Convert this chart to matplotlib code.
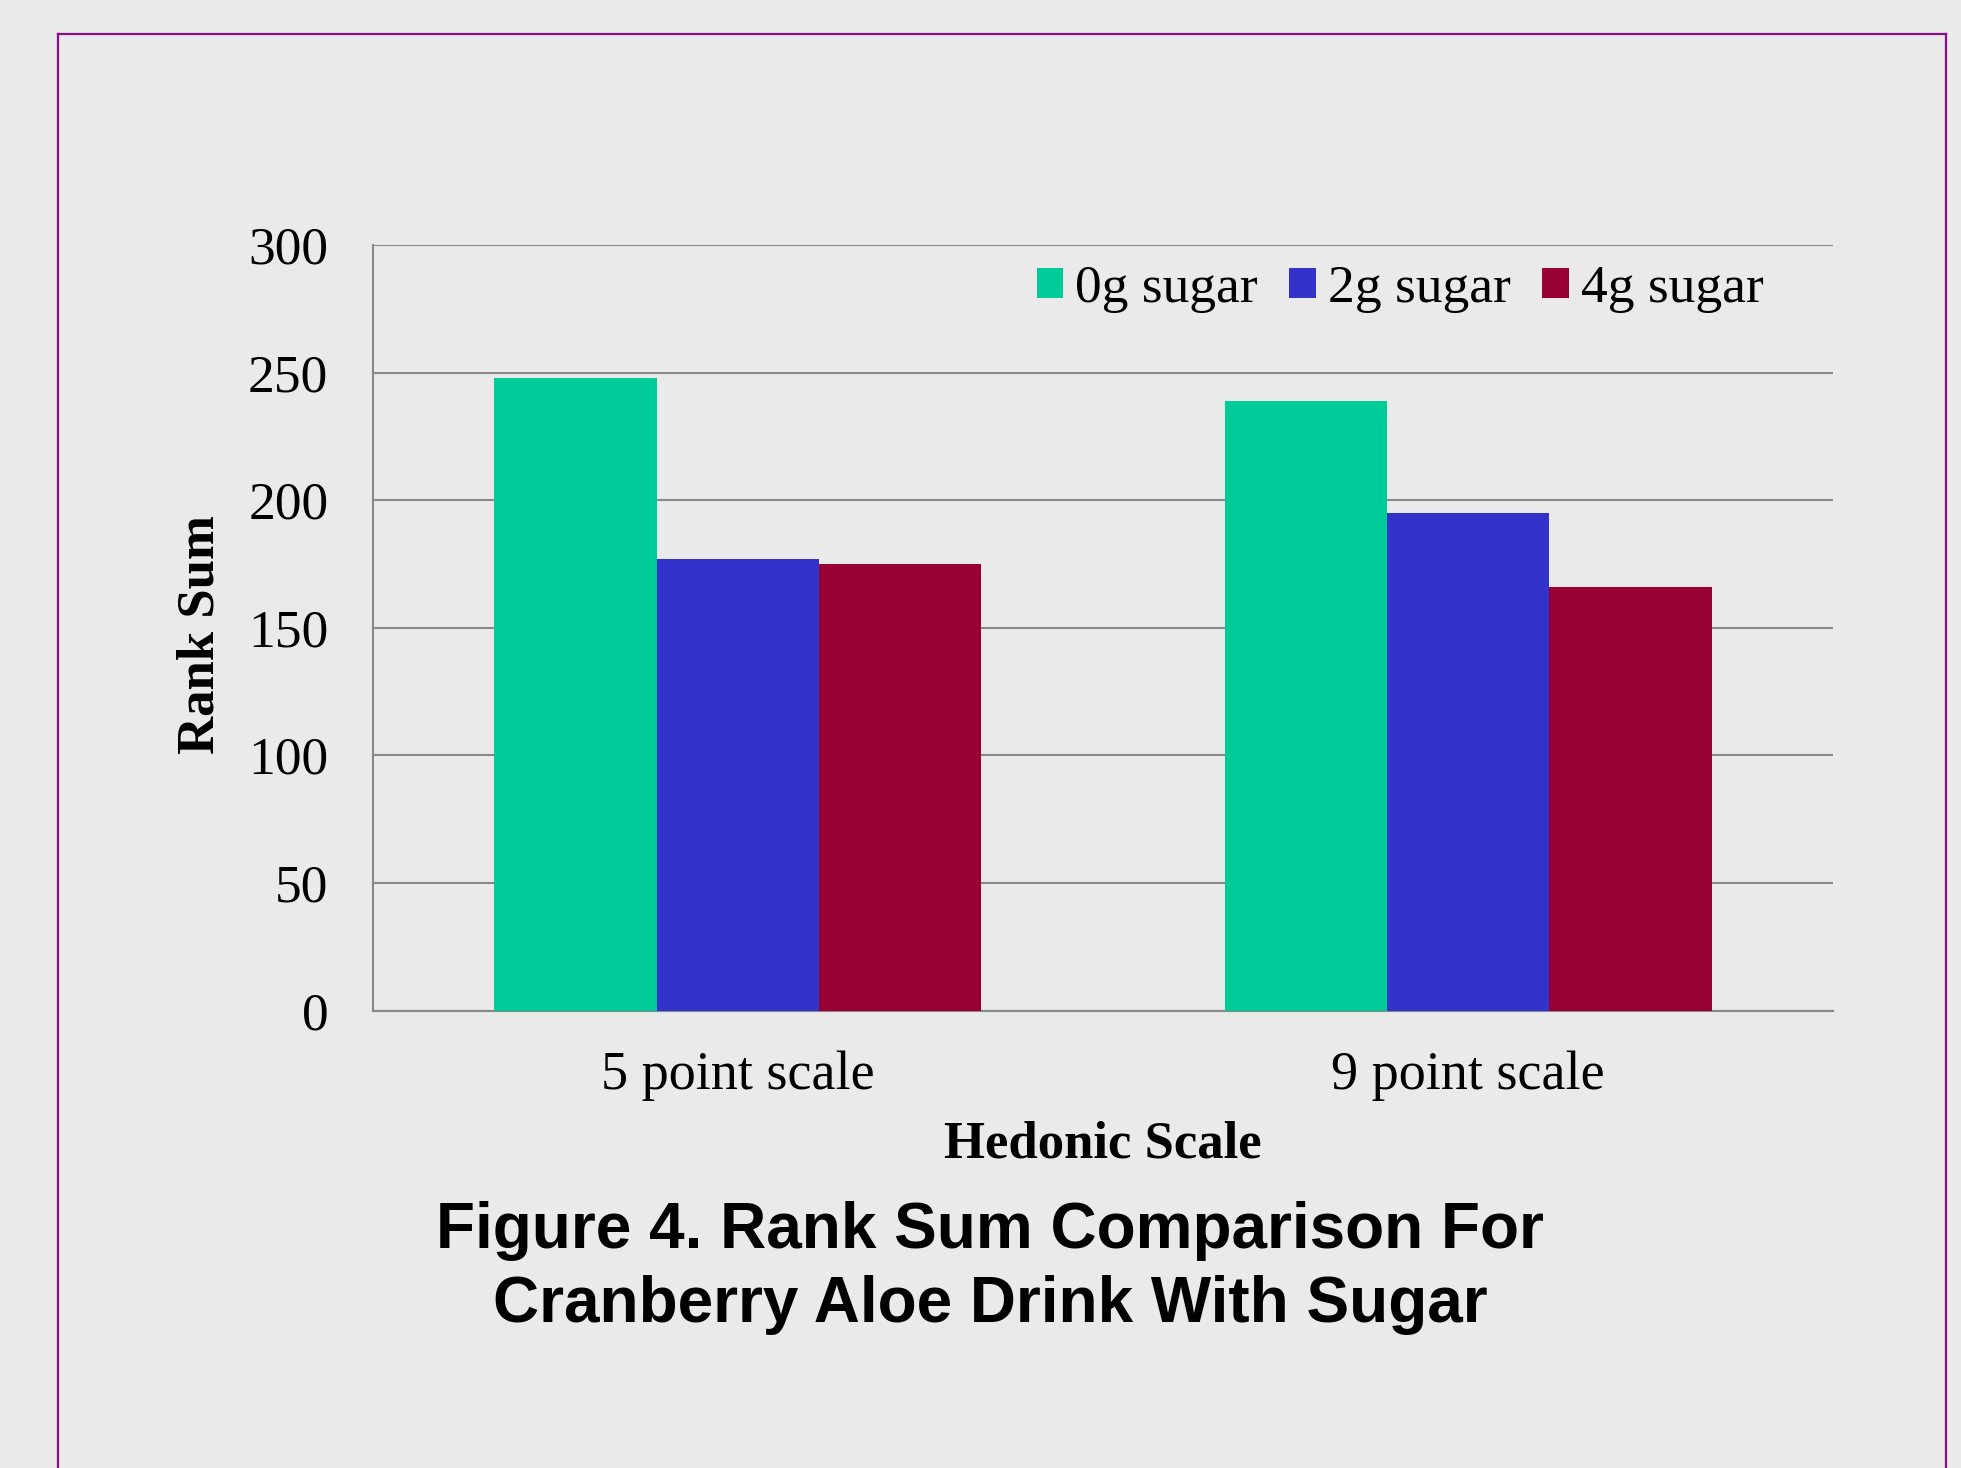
import matplotlib
matplotlib.use("Agg")
import matplotlib.pyplot as plt
from matplotlib.lines import Line2D
import numpy as np

categories = ["5 point scale", "9 point scale"]
series_names = ["0g sugar", "2g sugar", "4g sugar"]
sugar_0g = [248, 239]
sugar_2g = [177, 195]
sugar_4g = [175, 166]
y_ticks = [0, 50, 100, 150, 200, 250, 300]

colors = ["#00CC99", "#3333CC", "#990033"]
bg = "#EAEAEA"
W, H = 1961, 1468

fig = plt.figure(figsize=(W / 100, H / 100), dpi=100, facecolor=bg)
ax = fig.add_axes([372.7 / W, 1 - 1010.6 / H, (1833.5 - 372.7) / W, (1010.6 - 245.0) / H])
ax.set_facecolor(bg)

x = np.arange(len(categories))
bw = 2 / 9
for i, (vals, name, c) in enumerate(zip([sugar_0g, sugar_2g, sugar_4g], series_names, colors)):
    ax.bar(x + (i - 1) * bw, vals, width=bw, color=c, label=name, zorder=3, linewidth=0)

ax.set_xlim(-0.5, 1.5)
ax.set_ylim(0, 300)
ax.set_yticks(y_ticks)
ax.set_xticks(x)
ax.set_xticklabels(categories)
ax.yaxis.grid(True, color="#888888", linewidth=1.5, zorder=0)
ax.set_axisbelow(True)
for s in ["top", "right"]:
    ax.spines[s].set_visible(False)
for s in ["left", "bottom"]:
    ax.spines[s].set_color("#888888")
    ax.spines[s].set_linewidth(1.5)

serif = "Liberation Serif"
ax.tick_params(axis="y", length=0, pad=32, labelsize=38.5)
ax.tick_params(axis="x", length=0, pad=29, labelsize=39)
for lab in ax.get_yticklabels() + ax.get_xticklabels():
    lab.set_fontfamily(serif)

fig.text(200 / W, 1 - 635 / H, "Rank Sum", rotation=90, ha="center", va="center",
         fontsize=38, fontweight="bold", family=serif)
fig.text(1103 / W, 1 - 1145 / H, "Hedonic Scale", ha="center", va="center",
         fontsize=38, fontweight="bold", family=serif)

fig.text(990 / W, 1 - 1231 / H, "Figure 4. Rank Sum Comparison For", ha="center", va="center",
         fontsize=46, fontweight="bold", family="Liberation Sans")
fig.text(990 / W, 1 - 1305 / H, "Cranberry Aloe Drink With Sugar", ha="center", va="center",
         fontsize=46, fontweight="bold", family="Liberation Sans")

leg = ax.legend(loc="center", bbox_to_anchor=(1400 / W, 1 - 289 / H), bbox_transform=fig.transFigure,
                ncol=3, frameon=False, prop={"family": serif, "size": 38.5},
                handlelength=0.5, handleheight=0.5, handletextpad=0.22, columnspacing=0.59,
                borderpad=0, borderaxespad=0)

# purple frame (left, top, right)
pc = "#8A0A8A"
lw = 1.6
fig.add_artist(Line2D([58 / W, 58 / W], [0, 1 - 34 / H], transform=fig.transFigure, color=pc, lw=lw))
fig.add_artist(Line2D([58 / W, 1946 / W], [1 - 34 / H, 1 - 34 / H], transform=fig.transFigure, color=pc, lw=lw))
fig.add_artist(Line2D([1946 / W, 1946 / W], [0, 1 - 34 / H], transform=fig.transFigure, color=pc, lw=lw))

fig.savefig("out.png", dpi=100, facecolor=bg)
